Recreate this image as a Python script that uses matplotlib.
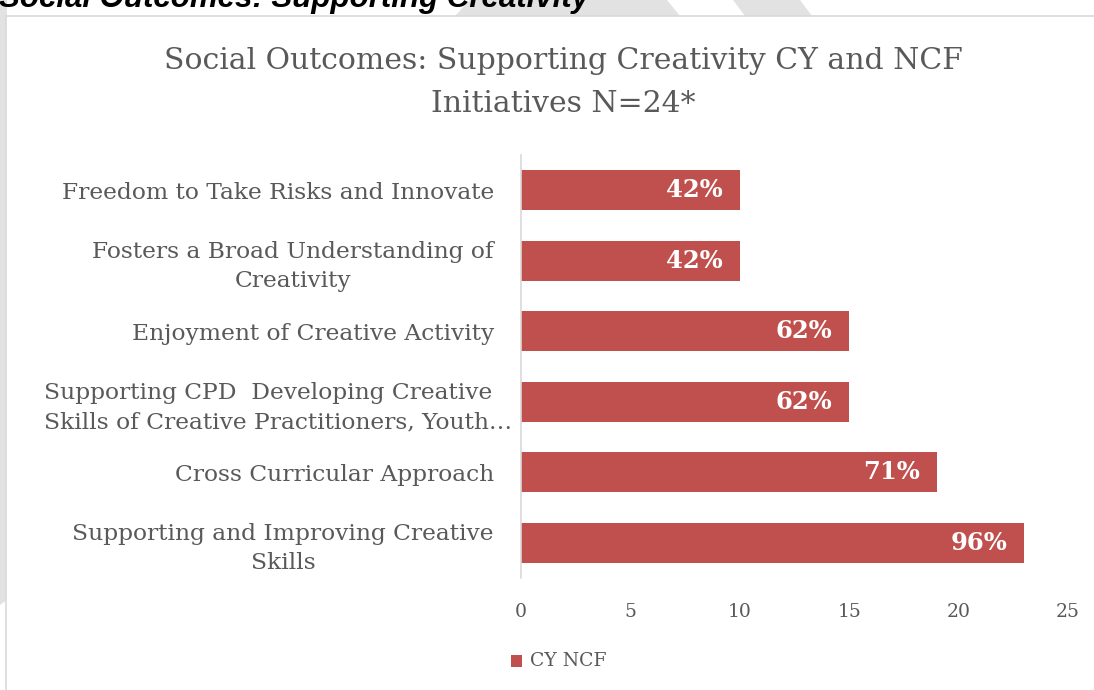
import matplotlib.pyplot as plt
from matplotlib.patches import Polygon, Rectangle
from matplotlib.transforms import ScaledTranslation

# === Data ===
categories = [
    "Freedom to Take Risks and Innovate",
    "Fosters a Broad Understanding of\nCreativity",
    "Enjoyment of Creative Activity",
    "Supporting CPD  Developing Creative\nSkills of Creative Practitioners, Youth…",
    "Cross Curricular Approach",
    "Supporting and Improving Creative\nSkills",
]
counts = [10, 10, 15, 15, 19, 23]
pct_labels = ["42%", "42%", "62%", "62%", "71%", "96%"]
tick_values = [0, 5, 10, 15, 20, 25]

W, H = 1094, 690
BAR = "#c0504d"
GREY_TXT = "#595959"
SERIF = ["DejaVu Serif"]

fig = plt.figure(figsize=(W / 100, H / 100), dpi=100)
fig.patch.set_facecolor("white")


def px(x, y):
    # pixel (from top-left) -> figure fraction
    return (x / W, 1 - y / H)


# === Page background: watermark stripes outside the chart box ===
for poly in [
    [(470, 0), (667, 0), (680, 16), (455, 16)],
    [(733, 0), (800, 0), (812, 16), (745, 16)],
    [(0, 0), (7, 0), (7, 600), (0, 605)],
]:
    fig.patches.append(Polygon([px(*p) for p in poly], closed=True,
                               transform=fig.transFigure, facecolor="#e2e2e2",
                               edgecolor="none", zorder=0))

# chart box (white, grey top/left border; right and bottom run off the page)
fig.patches.append(Rectangle(px(6, H + 5), (W + 10) / W, (H - 16 + 5) / H,
                             transform=fig.transFigure, facecolor="white",
                             edgecolor="#d9d9d9", linewidth=1.2, zorder=1))

# document heading, partly cut off at the top
fig.text(*px(-1, 7.5), "Social Outcomes: Supporting Creativity",
         fontsize=22.5, fontweight="bold", fontstyle="italic",
         family=["Liberation Sans"], color="black", va="baseline", ha="left",
         zorder=0.5)

# chart title
fig.text(*px(563, 61), "Social Outcomes: Supporting Creativity CY and NCF",
         fontsize=21.5, family=SERIF, color=GREY_TXT,
         ha="center", va="center", zorder=2)
fig.text(*px(563, 104), "Initiatives N=24*",
         fontsize=21.5, family=SERIF, color=GREY_TXT,
         ha="center", va="center", zorder=2)

# === Axes ===
x0, x1, y0, y1 = 521, 1068, 155, 578
ax = fig.add_axes([x0 / W, 1 - y1 / H, (x1 - x0) / W, (y1 - y0) / H])
ax.set_zorder(3)
ax.patch.set_alpha(0)

ypos = list(range(len(categories)))
bars = ax.barh(ypos, counts, height=0.57, color=BAR, edgecolor="none")
ax.set_xlim(0, 25)
ax.set_ylim(len(categories) - 0.5, -0.5)

for b, lab in zip(bars, pct_labels):
    ax.text(b.get_width() - 0.78, b.get_y() + b.get_height() / 2, lab,
            ha="right", va="center", color="white", fontsize=17.5,
            fontweight="bold", family=SERIF)

ax.set_yticks(ypos)
ax.set_yticklabels(categories, family=SERIF, fontsize=16.8,
                   color=GREY_TXT, multialignment="center", linespacing=1.4)
ax.tick_params(axis="y", length=0, pad=19.5)
cpd = ax.get_yticklabels()[3]
cpd.set_multialignment("left")
cpd.set_transform(cpd.get_transform() + ScaledTranslation(0.18, 0, fig.dpi_scale_trans))

ax.set_xticks(tick_values)
ax.set_xticklabels([str(v) for v in tick_values], family=SERIF,
                   fontsize=13.5, color=GREY_TXT)
ax.tick_params(axis="x", length=0, pad=18)

for s in ["top", "right", "bottom"]:
    ax.spines[s].set_visible(False)
ax.spines["left"].set_color("#d9d9d9")
ax.spines["left"].set_linewidth(1.2)

# legend
fig.patches.append(Rectangle(px(511, 667), 11 / W, 12 / H, transform=fig.transFigure,
                             facecolor=BAR, edgecolor="none", zorder=4))
fig.text(*px(530, 661), "CY NCF", family=SERIF, fontsize=13.5,
         color=GREY_TXT, ha="left", va="center", zorder=4)

fig.savefig("out.png", dpi=100)
